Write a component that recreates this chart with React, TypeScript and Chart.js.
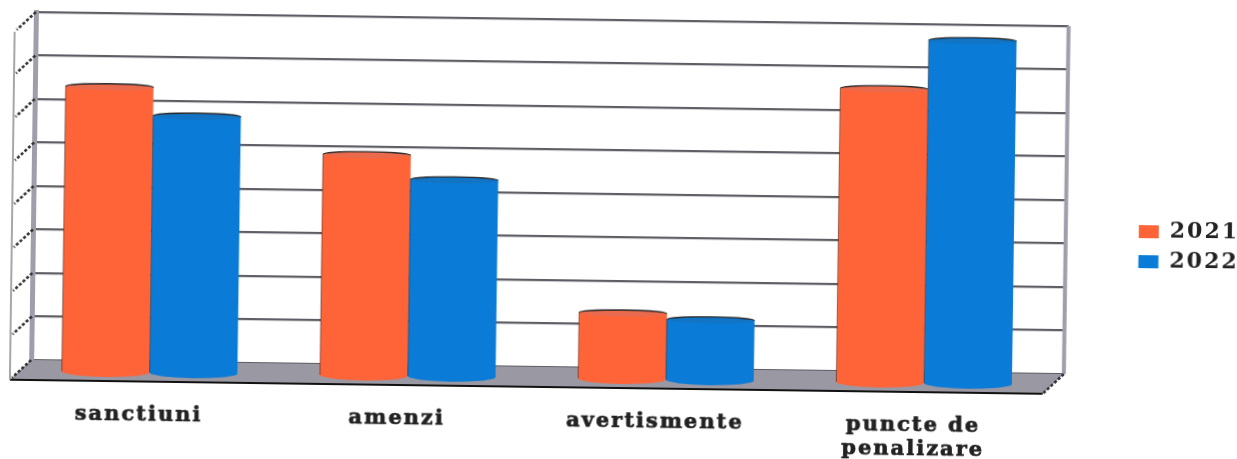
import React, { useEffect, useRef } from "react";
import { Chart, registerables } from "chart.js";

Chart.register(...registerables);

const categories = ["sanctiuni", "amenzi", "avertismente", ["puncte de", "penalizare"]];
const series2021 = [653, 505, 149, 673];
const series2022 = [588, 450, 136, 786];
const yMax = 800;
const yStep = 100;
const colors = { orange: "#FF6438", orangeTop: "#E96A4C", blue: "#0A7BD6", blueTop: "#1274C4" };

const DEPTH_X = -21;
const DEPTH_Y = 20;

const scene = {
  id: "scene",
  afterLayout(chart: any) {
    chart.legend.left += 4;
    chart.legend.right += 4;
  },
  beforeDraw(chart: any) {
    const ctx = chart.ctx;
    ctx.letterSpacing = "2px";
  },
  beforeDatasetsDraw(chart: any) {
    const ctx = chart.ctx;
    const { left, right, top, bottom } = chart.chartArea;
    const yScale = chart.scales.y;
    ctx.save();
    // floor
    ctx.beginPath();
    ctx.moveTo(left, bottom);
    ctx.lineTo(right, bottom);
    ctx.lineTo(right + DEPTH_X, bottom + DEPTH_Y);
    ctx.lineTo(left + DEPTH_X, bottom + DEPTH_Y);
    ctx.closePath();
    ctx.fillStyle = "#9A98A2";
    ctx.fill();
    // floor front edge
    ctx.beginPath();
    ctx.moveTo(left + DEPTH_X, bottom + DEPTH_Y);
    ctx.lineTo(right + DEPTH_X, bottom + DEPTH_Y);
    ctx.strokeStyle = "#111";
    ctx.lineWidth = 2;
    ctx.stroke();
    // right wall edge
    ctx.beginPath();
    ctx.moveTo(right, top);
    ctx.lineTo(right, bottom);
    ctx.strokeStyle = "#A09EAA";
    ctx.lineWidth = 4;
    ctx.stroke();
    // left outer edge
    ctx.beginPath();
    ctx.moveTo(left + DEPTH_X, top + DEPTH_Y);
    ctx.lineTo(left + DEPTH_X, bottom + DEPTH_Y);
    ctx.strokeStyle = "#8A8A8A";
    ctx.lineWidth = 1.5;
    ctx.stroke();
    // slanted tick marks
    ctx.strokeStyle = "#333";
    ctx.lineWidth = 2.6;
    ctx.setLineDash([3, 2]);
    yScale.ticks.forEach((t: any) => {
      const y = yScale.getPixelForValue(t.value);
      ctx.beginPath();
      ctx.moveTo(left, y);
      ctx.lineTo(left + DEPTH_X * 0.9, y + DEPTH_Y * 0.9);
      ctx.stroke();
    });
    // right floor edge
    ctx.beginPath();
    ctx.moveTo(right, bottom);
    ctx.lineTo(right + DEPTH_X, bottom + DEPTH_Y);
    ctx.stroke();
    ctx.setLineDash([]);

    // cylinders
    const tops = [colors.orangeTop, colors.blueTop];
    chart.data.labels.forEach((_: any, i: number) => {
      chart.data.datasets.forEach((ds: any, d: number) => {
        const el = chart.getDatasetMeta(d).data[i];
        const cx = el.x + DEPTH_X / 2;
        const w = el.width;
        const yTop = el.y + DEPTH_Y / 2;
        const yBase = el.base + DEPTH_Y / 2 + 2;
        const rx = w / 2;
        const ryTop = 3.2;
        const ryBase = 5;
        ctx.beginPath();
        ctx.moveTo(cx - rx, yTop);
        ctx.lineTo(cx - rx, yBase);
        ctx.ellipse(cx, yBase, rx, ryBase, 0, Math.PI, 0, true);
        ctx.lineTo(cx + rx, yTop);
        ctx.ellipse(cx, yTop, rx, ryTop, 0, 0, Math.PI, true);
        ctx.closePath();
        ctx.fillStyle = ds.backgroundColor;
        ctx.fill();
        // top cap
        ctx.beginPath();
        ctx.ellipse(cx, yTop, rx, ryTop, 0, 0, Math.PI * 2);
        ctx.fillStyle = tops[d];
        ctx.fill();
        ctx.beginPath();
        ctx.ellipse(cx, yTop, rx, ryTop, 0, Math.PI, 0);
        ctx.strokeStyle = "#2A2A2A";
        ctx.lineWidth = 1.3;
        ctx.stroke();
        // side edges
        ctx.strokeStyle = "rgba(50,35,30,0.55)";
        ctx.lineWidth = 1;
        ctx.beginPath();
        ctx.moveTo(cx - rx, yTop);
        ctx.lineTo(cx - rx, yBase);
        ctx.stroke();
      });
    });
    ctx.restore();
    return false;
  },
};

export default function App() {
  const ref = useRef<HTMLCanvasElement>(null);
  useEffect(() => {
    const chart = new Chart(ref.current!, {
      type: "bar",
      data: {
        labels: categories as any,
        datasets: [
          { label: "2021", data: series2021, backgroundColor: colors.orange, borderWidth: 0 },
          { label: "2022", data: series2022, backgroundColor: colors.blue, borderWidth: 0 },
        ],
      },
      plugins: [scene],
      options: {
        animation: false,
        responsive: false,
        layout: { padding: { left: 33, top: 20, right: 0, bottom: 0 } },
        datasets: { bar: { categoryPercentage: 0.68, barPercentage: 1 } },
        plugins: {
          title: { display: false },
          tooltip: { enabled: false },
          legend: {
            position: "right",
            align: "center",
            labels: {
              boxWidth: 20,
              boxHeight: 13,
              padding: 8,
              color: "#222",
              font: { family: "'DejaVu Serif'", weight: "bold", size: 22 },
            },
          },
        },
        scales: {
          x: {
            grid: { display: false },
            border: { display: false },
            afterFit: (s: any) => {
              s.height = 91;
            },
            ticks: {
              autoSkip: false,
              maxRotation: 0,
              minRotation: 0,
              labelOffset: -21,
              padding: 33,
              color: "#222",
              textStrokeColor: "#222",
              textStrokeWidth: 0.7,
              font: { family: "'DejaVu Serif'", weight: "bold", size: 21, lineHeight: 1.17 },
            },
          },
          y: {
            min: 0,
            max: yMax,
            afterFit: (s: any) => {
              s.width = 0;
            },
            grid: { color: "#5E5E64", lineWidth: 2.2, drawTicks: false },
            border: { color: "#A09EAA", width: 5 },
            ticks: { display: false, stepSize: yStep },
          },
          gutter: {
            type: "linear",
            position: "right",
            display: true,
            afterFit: (s: any) => {
              s.width = 61;
            },
            grid: { display: false, drawTicks: false },
            border: { display: false },
            ticks: { display: false },
          },
        },
      } as any,
    });
    return () => chart.destroy();
  }, []);
  return (
    <canvas
      ref={ref}
      width={1237}
      height={459}
      style={{
        position: "fixed",
        left: 0,
        top: 0,
        width: 1237,
        height: 459,
        background: "#fff",
        transform: "rotate(0.78deg)",
        transformOrigin: "618.5px 229.5px",
        filter: "blur(0.45px)",
      }}
    />
  );
}
